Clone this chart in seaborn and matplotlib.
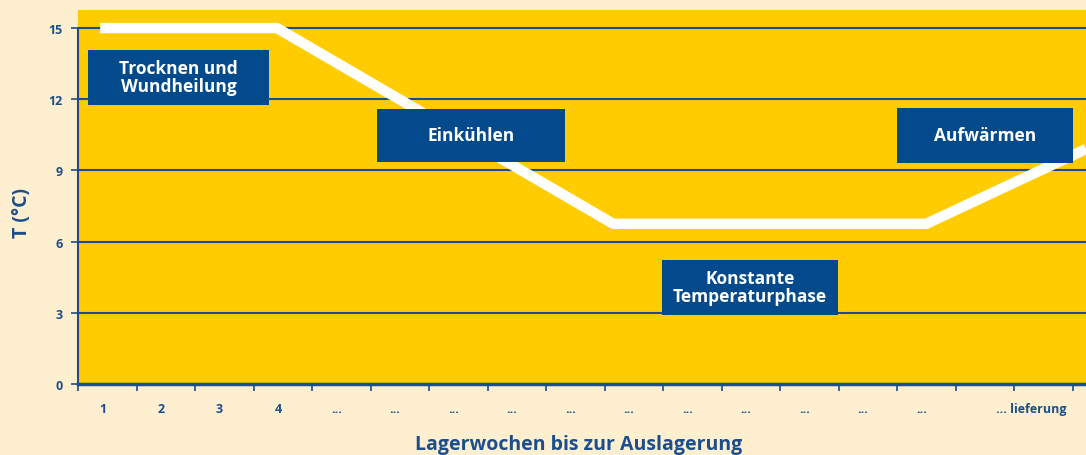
import numpy as np
import pandas as pd
import matplotlib
matplotlib.use("Agg")
import matplotlib.pyplot as plt
from matplotlib.patches import Rectangle
import seaborn as sns

# Daten: Temperaturverlauf (Knickpunkte der Kurve)
wochen = [0.38, 3.4, 9.15, 14.5, 17.23]
temperatur = [15, 15, 6.75, 6.75, 9.9]

# Achsenbeschriftungen
x_labels = ["1", "2", "3", "4"] + ["..."] * 11 + ["... lieferung"]
x_label_pos = [i + 0.42 for i in range(15)] + [16.3]
y_ticks = [0, 3, 6, 9, 12, 15]

# Phasen (Text, x0, x1, y0, y1)
phasen = ["Trocknen und\nWundheilung", "Einkühlen", "Konstante\nTemperaturphase", "Aufwärmen"]
phasen_x = [(0.17, 3.27), (5.11, 8.32), (9.98, 12.99), (14.0, 17.0)]
phasen_y = [(11.77, 14.09), (9.37, 11.6), (2.91, 5.23), (9.32, 11.65)]

# Farben
bg = "#FDEFD0"
gelb = "#FFCC00"
blau = "#1B4E8A"
box_blau = "#034A8C"

sns.set_theme(style="white")
plt.rcParams["font.family"] = ["Open Sans", "DejaVu Sans"]

fig = plt.figure(figsize=(10.86, 4.56), dpi=100, facecolor=bg)
ax = fig.add_axes([78 / 1086, 71 / 456, 1 - 78 / 1086, 374 / 456])
ax.set_facecolor(gelb)

ax.set_xlim(0, (1086 - 78) / 58.5)
ax.set_ylim(0, 15.76)

# Gitterlinien
for y in y_ticks[1:]:
    ax.axhline(y, color=blau, linewidth=1.5, zorder=1)

# Temperaturkurve
df = pd.DataFrame({"Woche": wochen, "T": temperatur})
sns.lineplot(data=df, x="Woche", y="T", sort=False, color="white",
             linewidth=7.5, ax=ax, zorder=3, solid_capstyle="butt")

# Phasen-Boxen
for text, (x0, x1), (y0, y1) in zip(phasen, phasen_x, phasen_y):
    ax.add_patch(Rectangle((x0, y0), x1 - x0, y1 - y0, facecolor=box_blau,
                           edgecolor="none", zorder=4))
    ax.text((x0 + x1) / 2, (y0 + y1) / 2, text, ha="center", va="center",
            color="white", fontsize=12.5, fontweight="bold", zorder=5,
            linespacing=1.0)

# Achsen
for side in ["top", "right"]:
    ax.spines[side].set_visible(False)
ax.spines["left"].set_color(blau)
ax.spines["left"].set_linewidth(1.5)
ax.spines["left"].set_bounds(0, 15)
ax.spines["bottom"].set_color(blau)
ax.spines["bottom"].set_linewidth(2.5)

ax.set_yticks(y_ticks)
ax.set_yticklabels([str(v) for v in y_ticks])
ax.tick_params(axis="y", direction="out", length=5, width=1.2, color=blau,
               labelcolor=blau, labelsize=9, pad=6, left=True)
for lbl in ax.get_yticklabels():
    lbl.set_fontweight("bold")

ax.set_xticks(range(18))
ax.set_xticklabels([])
ax.set_xticks(x_label_pos, minor=True)
ax.set_xticklabels(x_labels, minor=True)
ax.tick_params(axis="x", which="major", direction="out", length=5, width=1.2,
               color=blau, bottom=True)
ax.tick_params(axis="x", which="minor", length=0, labelcolor=blau,
               labelsize=9, pad=13)
for lbl in ax.get_xticklabels(minor=True):
    lbl.set_fontweight("bold")

ax.set_ylabel("T (°C)", color=blau, fontsize=14, fontweight="bold")
ax.yaxis.set_label_coords(-0.046, 0.46)
ax.set_xlabel("Lagerwochen bis zur Auslagerung", color=blau, fontsize=14,
              fontweight="bold")
ax.xaxis.set_label_coords(0.497, -0.133)

fig.savefig("out.png", dpi=100, facecolor=bg)
